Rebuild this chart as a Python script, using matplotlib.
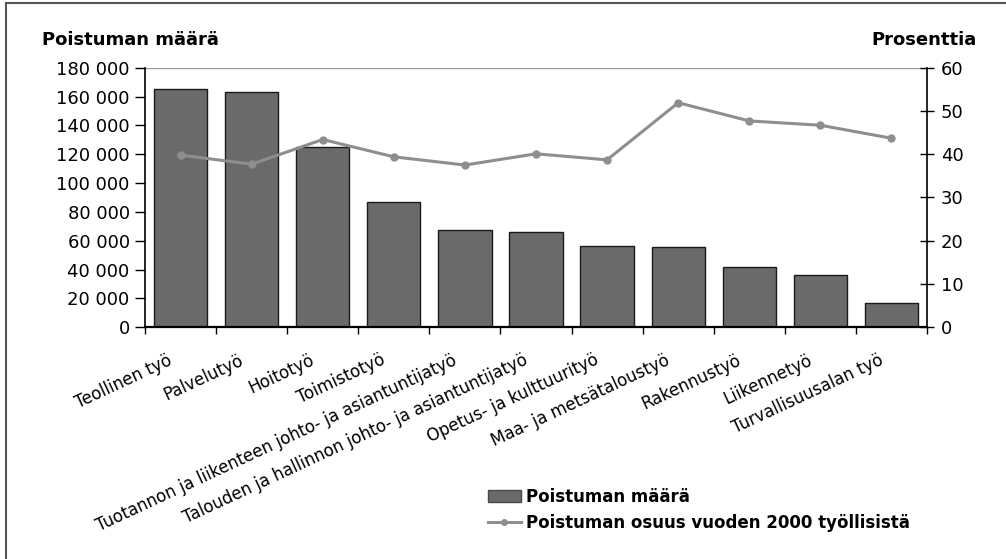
import matplotlib
matplotlib.use("Agg")
import matplotlib.pyplot as plt
from matplotlib.ticker import FuncFormatter
from matplotlib.lines import Line2D
from matplotlib.patches import Patch
import numpy as np

plt.rcParams['font.family'] = ['DejaVu Sans']

categories = [
    "Teollinen työ",
    "Palvelutyö",
    "Hoitotyö",
    "Toimistotyö",
    "Tuotannon ja liikenteen johto- ja asiantuntijatyö",
    "Talouden ja hallinnon johto- ja asiantuntijatyö",
    "Opetus- ja kulttuurityö",
    "Maa- ja metsätaloustyö",
    "Rakennustyö",
    "Liikennetyö",
    "Turvallisuusalan työ",
]
poistuma = [165000, 163300, 125200, 86800, 67500, 65900, 56700, 55500, 41600, 36300, 16600]
osuus = [39.8, 37.7, 43.4, 39.4, 37.5, 40.1, 38.7, 51.9, 47.7, 46.7, 43.7]

left_ticks = np.arange(0, 180001, 20000)
right_ticks = np.arange(0, 61, 10)

fig = plt.figure(figsize=(10.06, 5.59), dpi=100)
ax = fig.add_axes([145 / 1006, 1 - 327.3 / 559, (927 - 145) / 1006, (327.3 - 67.7) / 559])
ax2 = ax.twinx()

x = np.arange(len(categories))
bar_color = "#6a6a6a"
line_color = "#8e8e8e"

ax.bar(x, poistuma, width=0.75, color=bar_color, edgecolor="#1a1a1a", linewidth=1.0, zorder=2)
ax2.plot(x, osuus, color=line_color, linewidth=2.2, marker="o", markersize=5,
         markerfacecolor=line_color, markeredgecolor=line_color, zorder=3)

ax.set_xlim(-0.5, len(categories) - 0.5)
ax.set_ylim(0, 180000)
ax2.set_ylim(0, 60)

ax.set_yticks(left_ticks)
ax.yaxis.set_major_formatter(FuncFormatter(lambda v, p: f"{int(v):,}".replace(",", " ")))
ax2.set_yticks(right_ticks)

# category ticks sit on the boundaries between bars; labels hang slightly to the left
ax.xaxis.remove_overlapping_locs = False
ax.set_xticks(np.arange(-0.5, len(categories), 1.0), minor=False)
ax.set_xticklabels([])
ax.set_xticks(x - 0.13, minor=True)
ax.set_xticklabels(categories, minor=True, rotation=25, ha="right", va="center",
                   rotation_mode="anchor", fontsize=12)
ax.tick_params(axis="x", which="minor", length=0, pad=23)
ax.tick_params(axis="x", which="major", direction="out", length=5, width=1)

ax.tick_params(axis="y", direction="out", length=7, width=1, labelsize=13, pad=4)
ax2.tick_params(axis="y", direction="inout", length=10, width=1, labelsize=13, pad=5)

for a in (ax, ax2):
    a.spines["top"].set_visible(False)
ax.spines["right"].set_visible(False)
ax2.spines["left"].set_visible(False)
ax2.spines["bottom"].set_visible(False)
ax.spines["left"].set_linewidth(1.2)
ax.spines["bottom"].set_linewidth(1.6)
ax2.spines["right"].set_linewidth(1.2)
ax.axhline(180000, color="#9a9a9a", linewidth=1.0, zorder=1)

ax.set_zorder(ax2.get_zorder() - 1)
ax.patch.set_visible(True)
ax2.patch.set_visible(False)

fig.text(42 / 1006, 1 - 40 / 559, "Poistuman määrä", fontsize=13, fontweight="bold",
         ha="left", va="center")
fig.text(977 / 1006, 1 - 40 / 559, "Prosenttia", fontsize=13, fontweight="bold",
         ha="right", va="center")

handles = [
    Patch(facecolor=bar_color, edgecolor="#4a4a4a", label="Poistuman määrä"),
    Line2D([0], [0], color=line_color, linewidth=2.2, marker="o", markersize=4,
           label="Poistuman osuus vuoden 2000 työllisistä"),
]
fig.legend(handles=handles, loc="upper left", bbox_to_anchor=(481 / 1006, 1 - 481 / 559),
           frameon=False, prop={"weight": "bold", "size": 12},
           handlelength=2.0, handletextpad=0.3, labelspacing=0.5, borderaxespad=0)

# outer frame: left and top edges
fig.add_artist(Line2D([6 / 1006, 6 / 1006], [0, 1 - 3 / 559], transform=fig.transFigure,
                      color="#555555", linewidth=1.5))
fig.add_artist(Line2D([6 / 1006, 1], [1 - 3 / 559, 1 - 3 / 559], transform=fig.transFigure,
                      color="#555555", linewidth=1.5))

fig.savefig("out.png", dpi=100)
